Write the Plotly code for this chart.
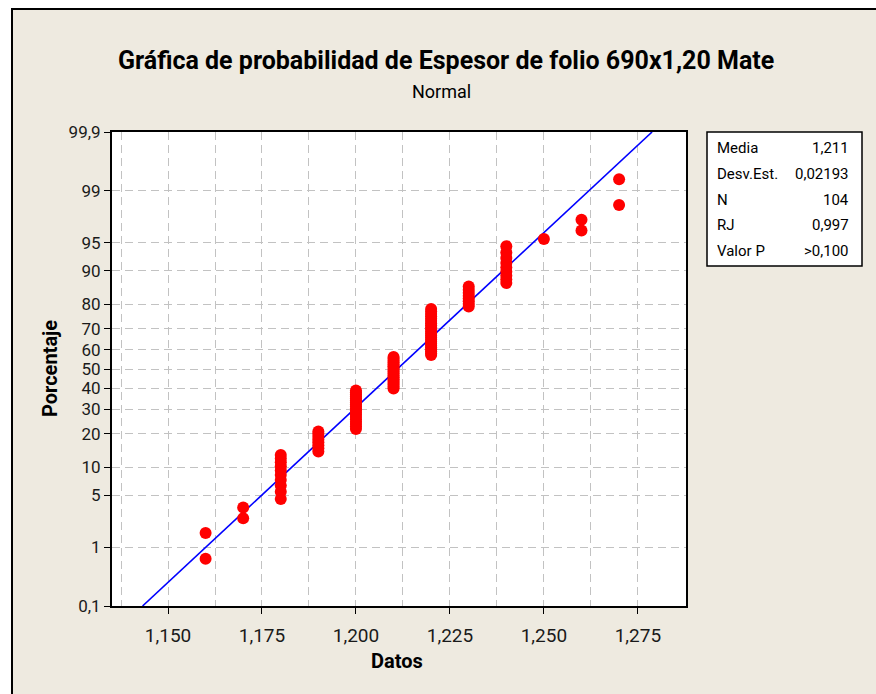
from statistics import NormalDist
import plotly.graph_objects as go

# Thickness readings (distinct values) and how many times each occurs
espesor = [1.16, 1.17, 1.18, 1.19, 1.20, 1.21, 1.22, 1.23, 1.24, 1.25, 1.26, 1.27]
frecuencia = [2, 2, 10, 8, 19, 18, 23, 8, 9, 1, 2, 2]

# Summary statistics shown in the table
media = 1.211
desv_est = 0.02193
n_total = 104
rj = "0,997"
valor_p = ">0,100"

# Probability axis ticks (percent) and x-axis ticks
pct_ticks = [0.1, 1, 5, 10, 20, 30, 40, 50, 60, 70, 80, 90, 95, 99, 99.9]
pct_text = ["0,1", "1", "5", "10", "20", "30", "40", "50", "60", "70", "80", "90", "95", "99", "99,9"]
x_ticks = [1.150, 1.175, 1.200, 1.225, 1.250, 1.275]
x_text = ["1,150", "1,175", "1,200", "1,225", "1,250", "1,275"]

nd = NormalDist()

# Expand the data and compute median-rank plotting positions
datos = []
for v, c in zip(espesor, frecuencia):
    datos += [v] * c
N = len(datos)
z_pts = [nd.inv_cdf((i - 0.3) / (N + 0.4)) for i in range(1, N + 1)]

z_lo, z_hi = nd.inv_cdf(0.001), nd.inv_cdf(0.999)
z_ticks = [nd.inv_cdf(p / 100) for p in pct_ticks]

FONT = "Roboto"
GRID = "#C2C2C2"
DASH = "8px,5px"

fig = go.Figure()

# Fitted normal line
fig.add_trace(go.Scatter(
    x=[media + desv_est * z_lo, media + desv_est * z_hi],
    y=[z_lo, z_hi],
    mode="lines",
    line=dict(color="#0000FF", width=1.6),
    hoverinfo="skip",
    showlegend=False,
))

# Data points
fig.add_trace(go.Scatter(
    x=datos, y=z_pts,
    mode="markers",
    marker=dict(color="#FF0000", size=12, line=dict(width=0)),
    showlegend=False,
))

x_minor = [1.1375 + 0.025 * k for k in range(6)]

fig.update_xaxes(
    range=[1.1351, 1.2878],
    tickmode="array", tickvals=x_ticks, ticktext=x_text,
    ticks="outside", ticklen=6, tickwidth=1, tickcolor="black",
    ticklabelstandoff=5,
    showline=True, linecolor="black", linewidth=2, mirror=True,
    showgrid=True, gridcolor=GRID, griddash=DASH, gridwidth=1,
    minor=dict(tickvals=x_minor, showgrid=True, gridcolor=GRID,
               griddash=DASH, gridwidth=1, ticks=""),
    zeroline=False,
    tickfont=dict(family=FONT, size=19, color="#1a1a1a"),
)
fig.update_yaxes(
    range=[z_lo, z_hi],
    tickmode="array", tickvals=z_ticks, ticktext=pct_text,
    ticks="outside", ticklen=6, tickwidth=1, tickcolor="black",
    showline=True, linecolor="black", linewidth=2, mirror=True,
    showgrid=True, gridcolor=GRID, griddash=DASH, gridwidth=1,
    zeroline=False,
    tickfont=dict(family=FONT, size=17, color="#1a1a1a"),
)

L, R, T, B = 112, 190, 132, 88
W, H = 876, 694
pw, ph = W - L - R, H - T - B


def px(x):
    return (x - L) / pw


def py(y):
    return (H - B - y) / ph


shapes = [
    # outer frame
    dict(type="rect", xref="paper", yref="paper",
         x0=px(12), x1=px(W + 20), y0=py(9), y1=py(H + 20),
         line=dict(color="black", width=2), fillcolor="rgba(0,0,0,0)", layer="above"),
    dict(type="rect", xref="paper", yref="paper",
         x0=px(-20), x1=px(11), y0=py(-20), y1=py(H + 20),
         line=dict(width=0), fillcolor="white", layer="above"),
    dict(type="rect", xref="paper", yref="paper",
         x0=px(-20), x1=px(W + 20), y0=py(-20), y1=py(8),
         line=dict(width=0), fillcolor="white", layer="above"),
    # statistics table box
    dict(type="rect", xref="paper", yref="paper",
         x0=px(707), x1=px(862), y0=py(132), y1=py(266),
         line=dict(color="black", width=1.5), fillcolor="white", layer="above"),
]

annotations = [
    dict(text="<b>Gráfica de probabilidad de Espesor de folio 690x1,20 Mate</b>",
         x=px(446), y=py(60), xref="paper", yref="paper", showarrow=False,
         xanchor="center", yanchor="middle",
         font=dict(family=FONT, size=25, color="black")),
    dict(text="Normal", x=px(441), y=py(91), xref="paper", yref="paper", showarrow=False,
         xanchor="center", yanchor="middle",
         font=dict(family=FONT, size=18, color="black")),
    dict(text="<b>Porcentaje</b>", x=px(50), y=py(369), xref="paper", yref="paper",
         showarrow=False, textangle=-90, xanchor="center", yanchor="middle",
         font=dict(family=FONT, size=20, color="black")),
    dict(text="<b>Datos</b>", x=px(397), y=py(661), xref="paper", yref="paper",
         showarrow=False, xanchor="center", yanchor="middle",
         font=dict(family=FONT, size=20, color="black")),
]

tabla = [("Media", "1,211"), ("Desv.Est.", "0,02193"), ("N", str(n_total)),
         ("RJ", rj), ("Valor P", valor_p)]
fila_y = [148, 174, 200, 225, 251]
for (etq, val), yy in zip(tabla, fila_y):
    annotations.append(dict(text=etq, x=px(715), y=py(yy), xref="paper", yref="paper",
                            showarrow=False, xanchor="left", yanchor="middle",
                            font=dict(family=FONT, size=15, color="black")))
    annotations.append(dict(text=val, x=px(851), y=py(yy), xref="paper", yref="paper",
                            showarrow=False, xanchor="right", yanchor="middle",
                            font=dict(family=FONT, size=15, color="black")))

fig.update_layout(
    width=W, height=H,
    margin=dict(l=L, r=R, t=T, b=B),
    paper_bgcolor="#EEEAE0",
    plot_bgcolor="white",
    shapes=shapes,
    annotations=annotations,
    showlegend=False,
)

fig.write_html("out.html")
